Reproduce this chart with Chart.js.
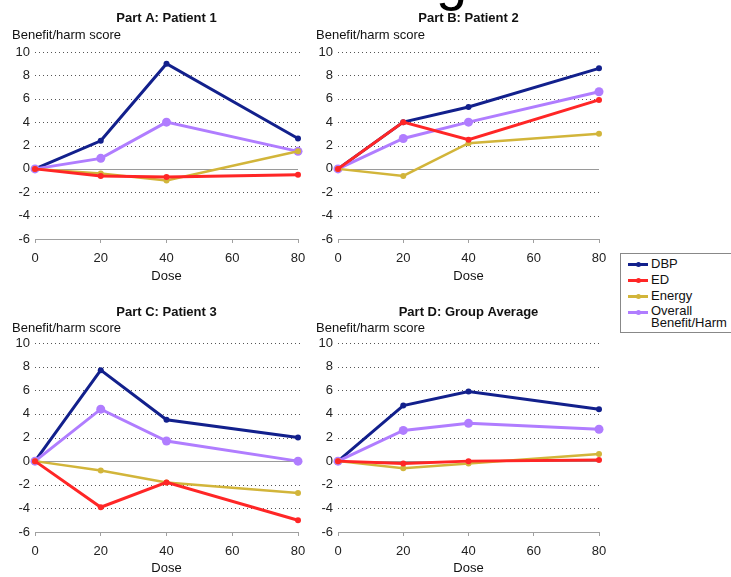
<!DOCTYPE html>
<html>
<head>
<meta charset="utf-8">
<script src="https://cdn.jsdelivr.net/npm/chart.js@4.4.1/dist/chart.umd.min.js"></script>
<style>
  html, body { margin: 0; padding: 0; background: #fff; }
  body { width: 731px; height: 577px; position: relative; overflow: hidden; font-family: "Liberation Sans", Arial, sans-serif; }
  .panel { position: absolute; }
  #heading { position: absolute; left: 436px; top: -48px; font: 56px/56px "Liberation Sans", Arial, sans-serif; color: #000; }
  #legend { position: absolute; left: 620px; top: 253px; width: 112px; height: 80px; border: 1px solid #888; box-sizing: border-box; font-size: 13px; color: #111; }
  #legend .row { position: absolute; left: 0; height: 16px; line-height: 16px; white-space: nowrap; }
  #legend .sw { position: absolute; left: 7px; top: 7px; width: 20px; height: 3px; }
  #legend .dot { position: absolute; left: 7.5px; top: -1px; width: 5px; height: 5px; border-radius: 50%; }
  #legend .lbl { position: absolute; left: 30px; top: 0; }
</style>
</head>
<body>
<div id="heading">g</div>
<canvas id="pA" class="panel" width="312" height="290" style="left:0;top:0"></canvas>
<canvas id="pB" class="panel" width="312" height="290" style="left:300px;top:0"></canvas>
<canvas id="pC" class="panel" width="312" height="287" style="left:0;top:290px"></canvas>
<canvas id="pD" class="panel" width="312" height="287" style="left:300px;top:290px"></canvas>
<div id="legend"></div>
<script>
// Dose levels and tick values
const doses = [0, 20, 40, 80];
const yTicks = [-6, -4, -2, 0, 2, 4, 6, 8, 10];
const seriesNames = ["DBP", "ED", "Energy", "Overall Benefit/Harm"];

// Panel titles
const panelTitles = ["Part A: Patient 1", "Part B: Patient 2", "Part C: Patient 3", "Part D: Group Average"];

// Benefit/harm scores per panel (values at doses 0, 20, 40, 80)
const patient1DBP     = [0, 2.4, 9.0, 2.6];
const patient1ED      = [0, -0.6, -0.7, -0.5];
const patient1Energy  = [0, -0.4, -1.0, 1.5];
const patient1Overall = [0, 0.9, 4.0, 1.5];

const patient2DBP     = [0, 4.0, 5.3, 8.6];
const patient2ED      = [0, 4.0, 2.5, 5.9];
const patient2Energy  = [0, -0.6, 2.2, 3.0];
const patient2Overall = [0, 2.6, 4.0, 6.6];

const patient3DBP     = [0, 7.7, 3.5, 2.0];
const patient3ED      = [0, -3.9, -1.8, -5.0];
const patient3Energy  = [0, -0.8, -1.8, -2.7];
const patient3Overall = [0, 4.4, 1.7, 0.0];

const groupDBP     = [0, 4.7, 5.9, 4.4];
const groupED      = [0, -0.2, 0.0, 0.1];
const groupEnergy  = [0, -0.6, -0.2, 0.6];
const groupOverall = [0, 2.6, 3.2, 2.7];

// Styling
const seriesColors = ["#12208c", "#ff2626", "#d2b53a", "#b07dff"];
const seriesWidths = [3, 3, 2.5, 3];
const seriesRadius = [3, 3, 3, 4.5];
const seriesOrder  = [4, 1, 2, 3];

const FONT = '"Liberation Sans", Arial, sans-serif';

// Chart-area geometry for each panel canvas
const layouts = [
  { id: "pA", W: 312, H: 290, L: 35, R: 298, T: 52, B: 239, titleY: 18, labelX: 12, labelY: 35, doseY: 276 },
  { id: "pB", W: 312, H: 290, L: 38, R: 299, T: 52, B: 239, titleY: 18, labelX: 16, labelY: 35, doseY: 276 },
  { id: "pC", W: 312, H: 287, L: 35, R: 298, T: 53, B: 242, titleY: 22, labelX: 12, labelY: 38, doseY: 278 },
  { id: "pD", W: 312, H: 287, L: 38, R: 299, T: 53, B: 242, titleY: 22, labelX: 16, labelY: 38, doseY: 278 }
];

const panelData = [
  [patient1DBP, patient1ED, patient1Energy, patient1Overall],
  [patient2DBP, patient2ED, patient2Energy, patient2Overall],
  [patient3DBP, patient3ED, patient3Energy, patient3Overall],
  [groupDBP, groupED, groupEnergy, groupOverall]
];

const X_AXIS_H = 24;

// Dotted reference lines, solid zero line, and panel texts
const decorations = {
  id: "decorations",
  beforeDatasetsDraw(chart, args, opts) {
    const ctx = chart.ctx, a = chart.chartArea, ys = chart.scales.y;
    ctx.save();
    ys.ticks.forEach(t => {
      if (t.value === ys.min) return;
      const y = Math.round(ys.getPixelForValue(t.value)) + 0.5;
      ctx.beginPath();
      if (t.value === 0) {
        ctx.setLineDash([]);
        ctx.strokeStyle = "#9a9a9a";
        ctx.moveTo(a.left, y); ctx.lineTo(a.right, y);
      } else {
        ctx.setLineDash([1, 3]);
        ctx.strokeStyle = "#555";
        ctx.moveTo(a.left, y); ctx.lineTo(a.right + 3, y);
      }
      ctx.lineWidth = 1;
      ctx.stroke();
    });
    ctx.restore();
  },
  afterDraw(chart, args, opts) {
    const ctx = chart.ctx, a = chart.chartArea;
    const cx = (a.left + a.right) / 2;
    ctx.save();
    ctx.fillStyle = "#111";
    ctx.textBaseline = "middle";
    ctx.textAlign = "center";
    ctx.font = "bold 13px " + FONT;
    ctx.fillText(opts.title, cx, opts.titleY);
    ctx.font = "13px " + FONT;
    ctx.fillText("Dose", cx, opts.doseY);
    ctx.textAlign = "left";
    ctx.fillText("Benefit/harm score", opts.labelX, opts.labelY);
    ctx.restore();
  }
};

layouts.forEach((lay, i) => {
  const datasets = seriesNames.map((name, s) => ({
    label: name,
    data: doses.map((d, k) => ({ x: d, y: panelData[i][s][k] })),
    borderColor: seriesColors[s],
    backgroundColor: seriesColors[s],
    pointBackgroundColor: seriesColors[s],
    pointBorderWidth: 0,
    pointRadius: seriesRadius[s],
    borderWidth: seriesWidths[s],
    tension: 0,
    order: seriesOrder[s],
    clip: false
  }));

  new Chart(document.getElementById(lay.id), {
    type: "line",
    data: { datasets },
    options: {
      responsive: false,
      animation: false,
      events: [],
      layout: {
        padding: { top: lay.T, right: lay.W - lay.R, left: 0, bottom: lay.H - lay.B - X_AXIS_H }
      },
      plugins: {
        legend: { display: false },
        tooltip: { enabled: false },
        title: { display: false },
        decorations: { title: panelTitles[i], titleY: lay.titleY, labelX: lay.labelX, labelY: lay.labelY, doseY: lay.doseY }
      },
      scales: {
        x: {
          type: "linear",
          min: 0, max: 80,
          ticks: { stepSize: 20, color: "#222", font: { family: FONT, size: 13 }, padding: 8, maxRotation: 0 },
          grid: { display: true, drawOnChartArea: false, drawTicks: true, tickLength: 4, color: "#a0a0a0", tickColor: "#a0a0a0" },
          border: { display: true, color: "#a0a0a0", width: 1 },
          afterFit(scale) {
            scale.height = X_AXIS_H;
            scale.paddingLeft = 0;
            scale.paddingRight = 0;
          }
        },
        y: {
          min: yTicks[0], max: yTicks[yTicks.length - 1],
          afterBuildTicks(scale) { scale.ticks = yTicks.map(v => ({ value: v })); },
          ticks: { color: "#222", font: { family: FONT, size: 13 }, padding: 5 },
          grid: { display: false, drawTicks: false },
          border: { display: false },
          afterFit(scale) {
            scale.width = lay.L;
            scale.paddingTop = 0;
            scale.paddingBottom = 0;
          }
        }
      }
    },
    plugins: [decorations]
  });
});

// Legend built from the series names and colours
const legend = document.getElementById("legend");
const rowTops = [2, 18, 34, 50];
seriesNames.forEach((name, s) => {
  const row = document.createElement("div");
  row.className = "row";
  row.style.top = rowTops[s] + "px";
  const sw = document.createElement("div");
  sw.className = "sw";
  sw.style.background = seriesColors[s];
  const dot = document.createElement("div");
  dot.className = "dot";
  dot.style.background = seriesColors[s];
  sw.appendChild(dot);
  const lbl = document.createElement("div");
  lbl.className = "lbl";
  if (name === "Overall Benefit/Harm") {
    lbl.innerHTML = "Overall<br>Benefit/Harm";
    lbl.style.lineHeight = "12px";
    lbl.style.top = "1px";
  } else {
    lbl.textContent = name;
  }
  row.appendChild(sw);
  row.appendChild(lbl);
  legend.appendChild(row);
});
</script>
</body>
</html>
